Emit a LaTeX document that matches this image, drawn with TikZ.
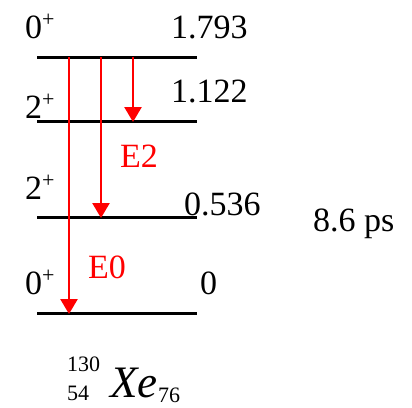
\documentclass[tikz,border=0pt]{standalone}
\usepackage{fontspec}
\setmainfont{Liberation Serif}
\usetikzlibrary{arrows.meta}
\newcommand{\bigfnt}{\fontsize{34}{38}\selectfont}
\newcommand{\smlfnt}{\fontsize{22}{24}\selectfont}
\newcommand{\spin}[1]{{\bigfnt #1\raisebox{12pt}{\smlfnt +}}}
\tikzset{
  level/.style={draw=black, line width=3pt},
  trans/.style={draw=red, line width=2.6pt, -{Triangle[length=15pt,width=17pt]}, shorten >=-1pt},
  lbl/.style={inner sep=0pt, anchor=base west, font=\bigfnt},
  rlbl/.style={lbl, text=red}
}
\begin{document}
\begin{tikzpicture}[x=1pt,y=-1pt]
\useasboundingbox (0,0) rectangle (412,407);
% levels
\coordinate (l3w) at (37,57);  \coordinate (l3e) at (197,57);
\coordinate (l2w) at (37,121); \coordinate (l2e) at (197,121);
\coordinate (l1w) at (37,217); \coordinate (l1e) at (197,217);
\coordinate (l0w) at (37,313); \coordinate (l0e) at (197,313);
\draw[level] (l3w) -- (l3e);
\draw[level] (l2w) -- (l2e);
\draw[level] (l1w) -- (l1e);
\draw[level] (l0w) -- (l0e);
% transitions
\coordinate (t1s) at (69,57);  \coordinate (t1e) at (69,313);
\coordinate (t2s) at (101,57); \coordinate (t2e) at (101,217);
\coordinate (t3s) at (133,57); \coordinate (t3e) at (133,121);
\draw[trans] (t1s) -- (t1e);
\draw[trans] (t2s) -- (t2e);
\draw[trans] (t3s) -- (t3e);
% spins
\node[lbl] (s3) at (25,38) {\spin{0}};
\node[lbl] (s2) at (25,118) {\spin{2}};
\node[lbl] (s1) at (25,199) {\spin{2}};
\node[lbl] (s0) at (25,294) {\spin{0}};
% energies
\node[lbl] (e3) at (171,38) {1.793};
\node[lbl] (e2) at (171,102) {1.122};
\node[lbl] (e1) at (184,215) {0.536};
\node[lbl] (e0) at (200,294) {0};
\node[lbl] (tau) at (313,231) {8.6 ps};
% multipolarities
\node[rlbl] (m2) at (120,167) {E2};
\node[rlbl] (m0) at (88,278) {E0};
% nucleus
\node[inner sep=0pt, anchor=base west, font=\smlfnt] (A) at (67,371) {130};
\node[inner sep=0pt, anchor=base west, font=\smlfnt] (Z) at (67,400) {54};
\node[inner sep=0pt, anchor=base west, font=\fontsize{45}{48}\selectfont\itshape] (X) at (110,397) {Xe};
\node[inner sep=0pt, anchor=base west, font=\smlfnt] (N) at (158,402) {76};
\end{tikzpicture}
\end{document}
